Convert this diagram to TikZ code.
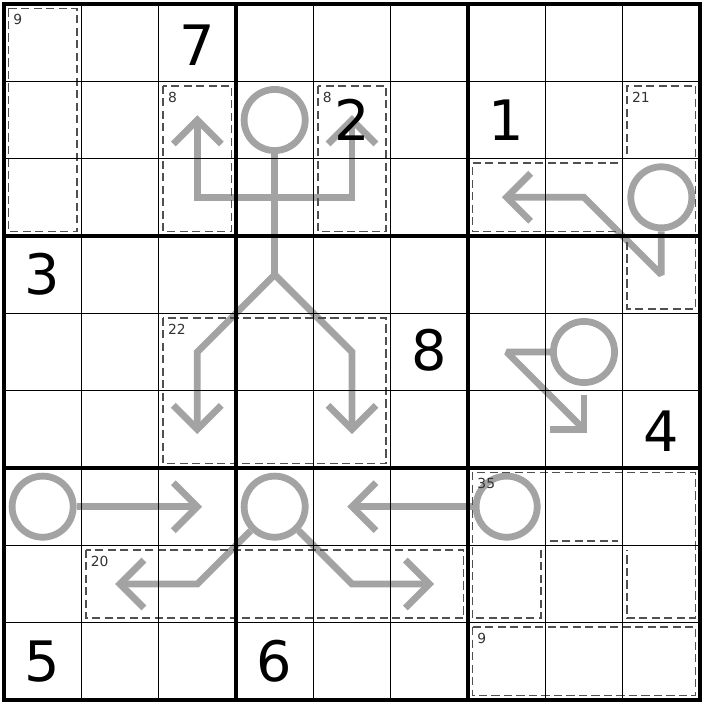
\documentclass[tikz,border=0pt]{standalone}
\usepackage{fontspec}
\setmainfont{DejaVu Sans}
\usetikzlibrary{calc}
\definecolor{arrowgray}{RGB}{163,163,163}
\definecolor{cagegray}{RGB}{80,80,80}
\begin{document}
\begin{tikzpicture}[x=1cm,y=-1cm,
  thinline/.style={line width=0.6pt,black},
  thickline/.style={line width=1.6pt,black},
  cage/.style={line width=0.65pt,cagegray,dash pattern=on 3pt off 1.6pt},
  cagesum/.style={anchor=north west,inner sep=0pt,font=\fontsize{5.1}{6}\selectfont,text=black!80},
  given/.style={anchor=center,inner sep=0pt,font=\fontsize{20.5}{24}\selectfont},
  shaft/.style={line width=2.5pt,arrowgray,line join=miter,miter limit=2},
  bulb/.style={circle,draw=arrowgray,line width=2.5pt,minimum size=0.79cm,inner sep=0pt},
  head/.style={line width=2.5pt,arrowgray,line join=miter}]
\useasboundingbox (-0.0517,-0.0517) rectangle (9.0517,9.0517);

% ---------- arrow bulbs ----------
\node[bulb] (b1) at (3.5,1.5) {};
\node[bulb] (b2) at (8.5,2.5) {};
\node[bulb] (b3) at (7.5,4.5) {};
\node[bulb] (b4) at (0.5,6.5) {};
\node[bulb] (b5) at (3.5,6.5) {};
\node[bulb] (b6) at (6.5,6.5) {};

% named points of arrows
\coordinate (a1j) at (3.5,2.5);
\coordinate (a1k) at (3.5,3.5);
\coordinate (a1t1) at (2.5,1.5);
\coordinate (a1t2) at (4.5,1.5);
\coordinate (a1t3) at (2.5,5.5);
\coordinate (a1t4) at (4.5,5.5);
\coordinate (a2t) at (6.5,2.5);
\coordinate (a3t) at (7.5,5.5);
\coordinate (a4t) at (2.5,6.5);
\coordinate (a5t1) at (1.5,7.5);
\coordinate (a5t2) at (5.5,7.5);
\coordinate (a6t) at (4.5,6.5);

% ---------- shafts ----------
\draw[shaft] (b1.south) -- (a1k);
\draw[shaft] (a1t1) -- (2.5,2.5) -- (4.5,2.5) -- (a1t2);
\draw[shaft] (a1t3) -- (2.5,4.5) -- (a1k) -- (4.5,4.5) -- (a1t4);
\draw[shaft] (b2.south) -- (8.5,3.5) -- (7.5,2.5) -- (a2t);
\draw[shaft] (b3.west) -- (6.5,4.5) -- (a3t);
\draw[shaft] (b4.east) -- (a4t);
\draw[shaft] (b5.south west) -- (2.5,7.5) -- (a5t1);
\draw[shaft] (b5.south east) -- (4.5,7.5) -- (a5t2);
\draw[shaft] (b6.west) -- (a6t);

% ---------- heads ----------
\draw[head] ($(a1t1)+(-0.31,0.31)$) -- (a1t1) -- ($(a1t1)+(0.31,0.31)$);
\draw[head] ($(a1t2)+(-0.31,0.31)$) -- (a1t2) -- ($(a1t2)+(0.31,0.31)$);
\draw[head] ($(a1t3)+(-0.31,-0.31)$) -- (a1t3) -- ($(a1t3)+(0.31,-0.31)$);
\draw[head] ($(a1t4)+(-0.31,-0.31)$) -- (a1t4) -- ($(a1t4)+(0.31,-0.31)$);
\draw[head] ($(a2t)+(0.31,-0.31)$) -- (a2t) -- ($(a2t)+(0.31,0.31)$);
\draw[head] ($(a3t)+(-0.44,0)$) -- (a3t) -- ($(a3t)+(0,-0.44)$);
\draw[head] ($(a4t)+(-0.31,-0.31)$) -- (a4t) -- ($(a4t)+(-0.31,0.31)$);
\draw[head] ($(a5t1)+(0.31,-0.31)$) -- (a5t1) -- ($(a5t1)+(0.31,0.31)$);
\draw[head] ($(a5t2)+(-0.31,-0.31)$) -- (a5t2) -- ($(a5t2)+(-0.31,0.31)$);
\draw[head] ($(a6t)+(0.31,-0.31)$) -- (a6t) -- ($(a6t)+(0.31,0.31)$);

% ---------- cages ----------
\def\d{0.057}
\draw[cage] (\d,\d) rectangle (1-\d,3-\d);
\draw[cage] (2+\d,1+\d) rectangle (3-\d,3-\d);
\draw[cage] (4+\d,1+\d) rectangle (5-\d,3-\d);
\draw[cage] (8+\d,2-\d) -- (8+\d,1+\d) -- (9-\d,1+\d) -- (9-\d,4-\d) -- (8+\d,4-\d) -- (8+\d,3+\d);
\draw[cage] (8-\d,2+\d) -- (6+\d,2+\d) -- (6+\d,3-\d) -- (8-\d,3-\d);
\draw[cage] (2+\d,4+\d) rectangle (5-\d,6-\d);
\draw[cage] (7-\d,7+\d) -- (7-\d,8-\d) -- (6+\d,8-\d) -- (6+\d,6+\d) -- (9-\d,6+\d) -- (9-\d,8-\d) -- (8+\d,8-\d) -- (8+\d,7+\d);
\draw[cage] (7+\d,7-\d) -- (8-\d,7-\d);
\draw[cage] (1+\d,7+\d) rectangle (6-\d,8-\d);
\draw[cage] (6+\d,8+\d) rectangle (9-\d,9-\d);

\node[cagesum] (s1) at (0.115,0.13) {9};
\node[cagesum] (s2) at (2.115,1.13) {8};
\node[cagesum] (s3) at (4.115,1.13) {8};
\node[cagesum] (s4) at (8.115,1.13) {21};
\node[cagesum] (s5) at (2.115,4.13) {22};
\node[cagesum] (s6) at (6.115,6.13) {35};
\node[cagesum] (s7) at (1.115,7.13) {20};
\node[cagesum] (s8) at (6.115,8.13) {9};

% ---------- grid ----------
\foreach \i in {1,2,4,5,7,8} {
  \draw[thinline] (\i,0) -- (\i,9);
  \draw[thinline] (0,\i) -- (9,\i);
}
\foreach \i in {3,6} {
  \draw[thickline] (\i,0) -- (\i,9);
  \draw[thickline] (0,\i) -- (9,\i);
}
\draw[thickline] (0,0) rectangle (9,9);

% ---------- givens ----------
\node[given] (g1) at (2.5,0.53) {7};
\node[given] (g2) at (4.5,1.5) {2};
\node[given] (g3) at (6.5,1.5) {1};
\node[given] (g4) at (0.5,3.5) {3};
\node[given] (g5) at (5.5,4.48) {8};
\node[given] (g6) at (8.5,5.53) {4};
\node[given] (g7) at (0.5,8.5) {5};
\node[given] (g8) at (3.5,8.5) {6};
\end{tikzpicture}
\end{document}
